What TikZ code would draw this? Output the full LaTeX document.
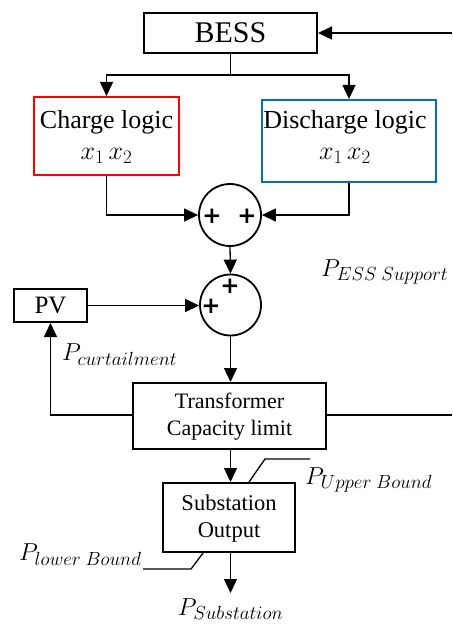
\RequirePackage{fix-cm}
\documentclass[tikz,border=0pt]{standalone}
\usepackage{fontspec}
\setmainfont{Liberation Serif}
\newfontfamily\plusfont{DejaVu Sans}
\usetikzlibrary{arrows.meta}
\newcommand\bigsub[1]{\mbox{\fontsize{19}{19}\selectfont$#1$}}
\definecolor{cred}{RGB}{255,0,0}
\definecolor{cblue}{RGB}{0,112,192}
\begin{document}
\begin{tikzpicture}[x=1pt,y=-1pt,
  box/.style={draw,line width=2pt,inner sep=0pt},
  conn/.style={line width=1.3pt},
  arr/.style={line width=1.3pt,-{Triangle[length=14pt,width=13pt]}},
  sumc/.style={draw,line width=1.8pt,circle,minimum size=62pt,inner sep=0pt},
  plus/.style={font=\fontsize{23}{23}\plusfont\bfseries,inner sep=0pt},
  mlab/.style={inner sep=0pt,font=\fontsize{24.5}{26}\selectfont}]
\useasboundingbox (0,0) rectangle (452,628);
% boxes
\node[box,minimum width=173pt,minimum height=40pt,font=\fontsize{30}{32}\selectfont] (bess) at (230.5,33) {BESS};
\node[box,draw=cred,minimum width=145pt,minimum height=78pt] (charge) at (106.5,136) {};
\node[font=\fontsize{26}{28}\selectfont] (chargetxt) at (106.5,122) {Charge logic};
\node[font=\fontsize{26}{28}\selectfont] (chargex) at (106.5,156) {$x_{\bigsub{1}}\,x_{\bigsub{2}}$};
\node[box,draw=cblue,minimum width=174pt,minimum height=82pt] (dis) at (349,141) {};
\node[font=\fontsize{26}{28}\selectfont] (distxt) at (345,122) {Discharge logic};
\node[font=\fontsize{26}{28}\selectfont] (disx) at (345,156) {$x_{\bigsub{1}}\,x_{\bigsub{2}}$};
\node[sumc] (s1) at (230,215) {};
\node[plus] (p1) at (212,216) {+};
\node[plus] (p2) at (247,216) {+};
\node[sumc,minimum size=61pt] (s2) at (230.5,305) {};
\node[plus] (p3) at (230,286) {+};
\node[plus] (p4) at (211,306) {+};
\node[box,minimum width=73pt,minimum height=33pt,font=\fontsize{25}{27}\selectfont] (pv) at (50.5,305.5) {PV};
\node[box,minimum width=193pt,minimum height=66pt] (tr) at (229.5,416) {};
\node[font=\fontsize{22}{24}\selectfont,align=center,inner sep=0pt] (trtxt) at (229.5,417) {Transformer\\[3pt]Capacity limit};
\node[box,minimum width=132pt,minimum height=69pt] (sub) at (229,517.5) {};
\node[font=\fontsize{22.5}{24}\selectfont,align=center,inner sep=0pt] (subtxt) at (229,519) {Substation\\[3pt]Output};
% labels
\node[mlab,anchor=west] (pess) at (321,272) {$P_{\bigsub{ESS\ Support}}$};
\node[mlab,anchor=west] (pcur) at (62,355) {$P_{\bigsub{curtailment}}$};
\node[mlab,anchor=west] (pup) at (305,480) {$P_{\bigsub{Upper\ Bound}}$};
\node[mlab,anchor=west] (plow) at (19,555) {$P_{\bigsub{lower\ Bound}}$};
\node[mlab] (psub) at (230.5,609) {$P_{\bigsub{Substation}}$};
% coordinates
\coordinate (rin) at (452,33);
\coordinate (bj) at (230.5,75);
\coordinate (rout) at (452,415);
\coordinate (outend) at (230.5,593);
\coordinate (ua) at (249,482);
\coordinate (ub) at (265,459);
\coordinate (uc) at (310,459);
\coordinate (la) at (203,553);
\coordinate (lb) at (191,569);
\coordinate (lc) at (143,569);
% connectors
\draw[arr] (rin) -- (bess.east);
\draw[conn] (bess.south) -- (bj);
\draw[arr] (bj) -| (charge.north -| chargetxt);
\draw[arr] (bj) -| (dis.north);
\draw[arr] (charge.south) |- (s1.west);
\draw[arr] (dis.south) |- (s1.east);
\draw[arr] (s1.south) -- (s2.north);
\draw[arr] (pv.east) -- (pv.east -| s2.west);
\draw[arr] (s2.south) -- (tr.north -| s2.south);
\draw[arr] (tr.west |- rout) -| (pv.south);
\draw[conn] (tr.east |- rout) -- (rout);
\draw[arr] (tr.south -| s2.south) -- (sub.north -| s2.south);
\draw[arr] (sub.south -| s2.south) -- (outend);
\draw[conn] (ua) -- (ub) -- (uc);
\draw[conn] (la) -- (lb) -- (lc);
\end{tikzpicture}
\end{document}
